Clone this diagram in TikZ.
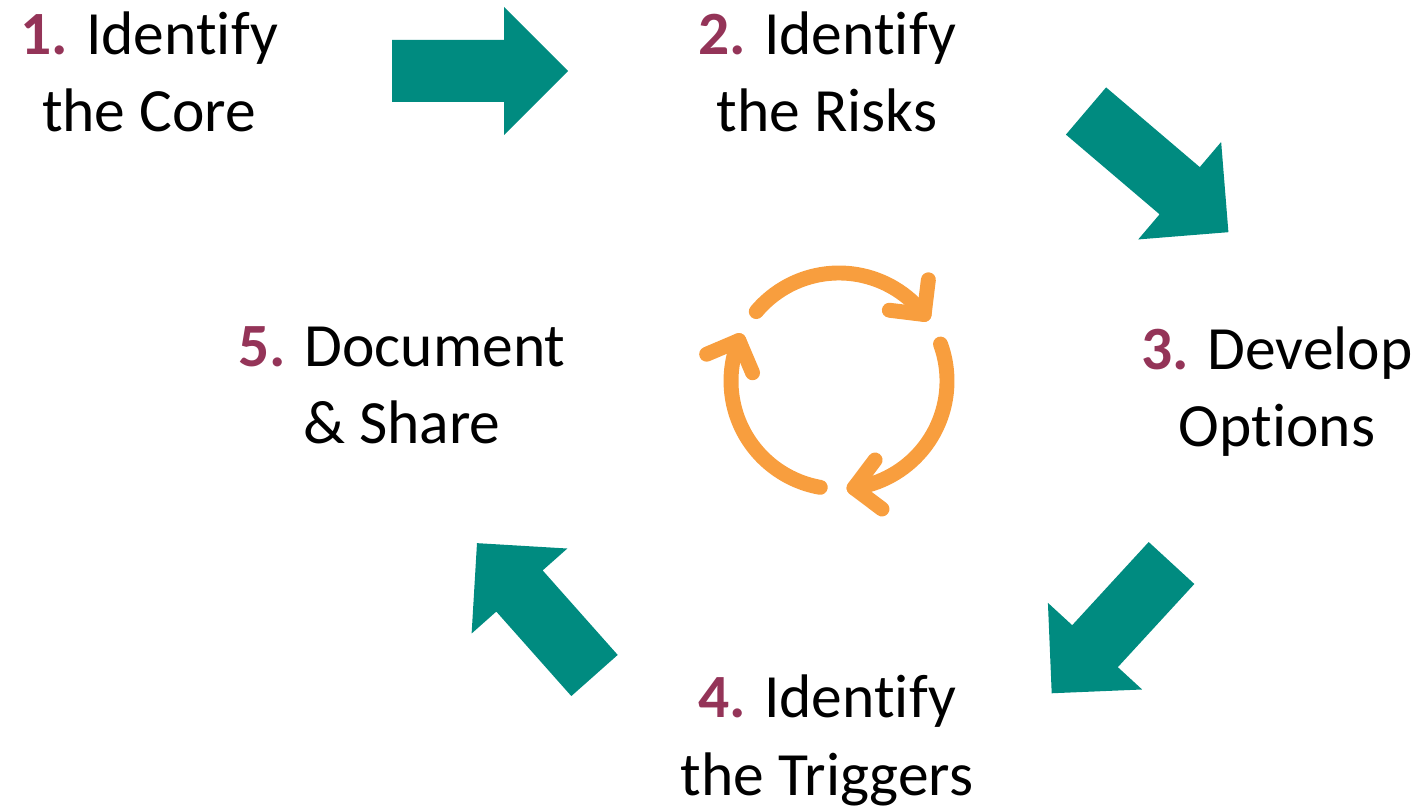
\documentclass[tikz,border=0pt]{standalone}
\usepackage{fontspec}
\setmainfont{Carlito}[Ligatures=NoCommon]
\usetikzlibrary{calc}

\definecolor{stepteal}{RGB}{0,139,128}
\definecolor{numred}{RGB}{148,52,88}
\definecolor{cycorange}{RGB}{248,158,62}

\tikzset{
  steplabel/.style={align=center,font=\fontsize{35}{44}\selectfont,inner sep=0pt,anchor=base},
  cycline/.style={draw=cycorange,line width=8.5pt,line cap=round,line join=round},
  pics/tealarrow/.style={code={
    \fill[stepteal] (0,-31) -- (#1-64,-31) -- (#1-64,-64) -- (#1,0)
      -- (#1-64,64) -- (#1-64,31) -- (0,31) -- cycle;}}
}
\newcommand{\stepnum}[1]{{\bfseries\color{numred}#1}}

\begin{document}
\begin{tikzpicture}[x=0.02cm,y=0.02cm]
  \useasboundingbox (0,0) rectangle (1422,808);
  \node[steplabel] (core)     at (149,676)  {\stepnum{1.} Identify\\the Core};
  \node[steplabel] (risks)    at (827,676)  {\stepnum{2.} Identify\\the Risks};
  \node[steplabel] (options)  at (1277,361) {\stepnum{3.} Develop\\Options};
  \node[steplabel] (triggers) at (827,13)   {\stepnum{4.} Identify\\the Triggers};
  \node[steplabel] (share)    at (402,364)  {\stepnum{5.} Document\\\& Share};
  % big arrows between the steps
  \pic               at (392,737)    {tealarrow=176};
  \pic[rotate=-40.4] at (1086,697)   {tealarrow=187};
  \pic[rotate=-132.6] at (1171.5,245) {tealarrow=177};
  \pic[rotate=131.6] at (594.5,132.5) {tealarrow=177};
  % cycle icon
  \coordinate (cyc) at (839,427);
  \foreach \a in {140,20,-100} {
    \draw[cycline] ($(cyc)+(\a:108)$) arc[start angle=\a,delta angle=-102,radius=108];
    \draw[cycline] ($(cyc)+(\a-102:108)+(\a-57:35)$) -- ($(cyc)+(\a-102:108)$)
      -- ($(cyc)+(\a-102:108)+(\a+33:35)$);
  }
\end{tikzpicture}
\end{document}
